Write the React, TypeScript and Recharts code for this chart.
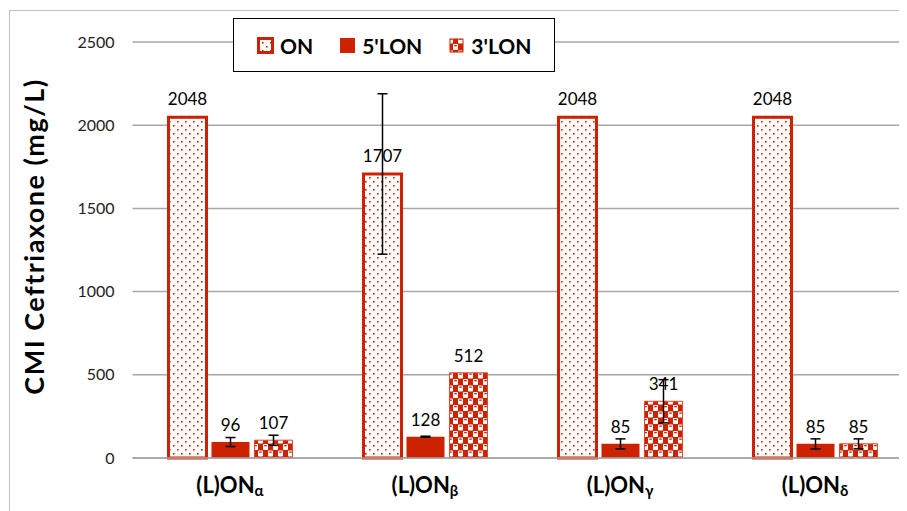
import { BarChart, Bar, XAxis, YAxis, CartesianGrid, ErrorBar, LabelList } from 'recharts';

// categories: base label + greek subscript
const groupNames = ['(L)ON', '(L)ON', '(L)ON', '(L)ON'];
const groupSubs = ['α', 'β', 'γ', 'δ'];

// CMI values (mg/L) and error half-widths
const onValues = [2048, 1707, 2048, 2048];
const onErrors = [0, 482, 0, 0];
const lon5Values = [96, 128, 85, 85];
const lon5Errors = [27, 3, 30, 30];
const lon3Values = [107, 512, 341, 85];
const lon3Errors = [30, 0, 130, 30];

const yTicks = [0, 500, 1000, 1500, 2000, 2500];

const RED = '#cc2200';
const GRID = '#a6a6a6';
const FONT = 'Lato, "Open Sans", sans-serif';

const chartData = groupNames.map((name, i) => ({
  name: name + groupSubs[i],
  base: name,
  sub: groupSubs[i],
  on: onValues[i],
  onErr: onErrors[i],
  lon5: lon5Values[i],
  lon5Err: lon5Errors[i],
  lon3: lon3Values[i],
  lon3Err: lon3Errors[i],
}));

const Patterns = ({ suffix }: { suffix: string }) => (
  <defs>
    <pattern id={`dots${suffix}`} width="8" height="8" patternUnits="userSpaceOnUse">
      <rect width="8" height="8" fill="#fff" />
      <rect x="1" y="1" width="1.6" height="1.6" fill={RED} />
      <rect x="5" y="5" width="1.6" height="1.6" fill={RED} />
    </pattern>
    <pattern id={`checks${suffix}`} width="10" height="13" patternUnits="userSpaceOnUse">
      <rect width="10" height="13" fill={RED} />
      <rect x="0" y="0.5" width="5" height="6" rx="0.8" fill="#fff" />
      <rect x="5" y="7" width="5" height="6" rx="0.8" fill="#fff" />
      <rect x="1.2" y="1.5" width="2.6" height="1.3" fill={RED} />
      <rect x="6.2" y="8" width="2.6" height="1.3" fill={RED} />
    </pattern>
  </defs>
);

const GroupTick = ({ x, y, payload, index }: any) => {
  const d = chartData[index] ?? chartData.find((r) => r.name === payload.value);
  return (
    <text x={x} y={y} dy={27} textAnchor="middle" fontFamily={FONT} fontWeight="bold" fontSize={22} fill="#000">
      <tspan>{d ? d.base : payload.value}</tspan>
      <tspan fontSize={15} dy={3}>{d ? d.sub : ''}</tspan>
    </text>
  );
};

const LegendIcon = ({ kind }: { kind: string }) => (
  <svg width={17} height={17} style={{ display: 'block' }}>
    <Patterns suffix={`-lg-${kind}`} />
    {kind === 'on' && <rect x={1.5} y={1.5} width={14} height={14} fill={`url(#dots-lg-${kind})`} stroke={RED} strokeWidth={3} />}
    {kind === 'lon5' && <rect x={1} y={1} width={15} height={15} fill={RED} />}
    {kind === 'lon3' && <rect x={2} y={2} width={13} height={13} fill={`url(#checks-lg-${kind})`} stroke={RED} strokeWidth={1} />}
  </svg>
);

const legendItems = [
  { kind: 'on', label: 'ON' },
  { kind: 'lon5', label: "5'LON" },
  { kind: 'lon3', label: "3'LON" },
];

export default function App() {
  return (
    <div style={{ position: 'relative', width: 899, height: 503, overflow: 'hidden', fontFamily: FONT }}>
      <div style={{ position: 'absolute', left: 1, top: 2, width: 1000, height: 1000, border: '1px solid #bfbfbf' }} />
      <BarChart
        width={920}
        height={503}
        data={chartData}
        margin={{ top: 34, right: 15.5, left: 64.5, bottom: 23 }}
        barSize={38}
        barGap={5}
        style={{ position: 'absolute', left: 0, top: 0 }}
      >
        <Patterns suffix="" />
        <CartesianGrid vertical={false} stroke={GRID} strokeWidth={1.5} />
        <XAxis
          dataKey="name"
          height={30}
          axisLine={{ stroke: GRID, strokeWidth: 1.5 }}
          tickLine={false}
          tick={<GroupTick />}
          interval={0}
        />
        <YAxis
          width={60}
          domain={[0, 2500]}
          ticks={yTicks}
          axisLine={false}
          tickLine={false}
          tickSize={6}
          tickMargin={12}
          tick={{ fontSize: 16, fill: '#222', fontFamily: FONT }}
          label={{
            content: () => (
              <text
                transform="translate(25,228.5) rotate(-90)"
                textAnchor="middle"
                dominantBaseline="central"
                fontFamily={FONT}
                fontWeight="bold"
                fontSize={27}
                letterSpacing={1.5}
                fill="#000"
              >
                CMI Ceftriaxone (mg/L)
              </text>
            ),
          }}
        />
        <Bar dataKey="on" name="ON" fill="url(#dots)" stroke={RED} strokeWidth={3} isAnimationActive={false}>
          <ErrorBar dataKey="onErr" width={5} stroke="#000" strokeWidth={1.5} />
          <LabelList dataKey="on" position="top" offset={12} fontSize={17} fill="#000" fontFamily={FONT} />
        </Bar>
        <Bar dataKey="lon5" name="5'LON" fill={RED} isAnimationActive={false}>
          <ErrorBar dataKey="lon5Err" width={5} stroke="#000" strokeWidth={1.5} />
          <LabelList dataKey="lon5" position="top" offset={11} fontSize={17} fill="#000" fontFamily={FONT} />
        </Bar>
        <Bar dataKey="lon3" name="3'LON" fill="url(#checks)" stroke="#e04a30" strokeWidth={1} isAnimationActive={false}>
          <ErrorBar dataKey="lon3Err" width={5} stroke="#000" strokeWidth={1.5} />
          <LabelList dataKey="lon3" position="top" offset={11} fontSize={17} fill="#000" fontFamily={FONT} />
        </Bar>
      </BarChart>
      <div
        style={{
          position: 'absolute',
          left: 225,
          top: 10,
          width: 322,
          height: 54,
          border: '1px solid #000',
          background: '#fff',
          display: 'flex',
          alignItems: 'center',
          paddingLeft: 23,
          boxSizing: 'border-box',
        }}
      >
        {legendItems.map((it, i) => (
          <div key={it.kind} style={{ display: 'flex', alignItems: 'center', marginRight: i < 2 ? 26 : 0 }}>
            <LegendIcon kind={it.kind} />
            <span style={{ marginLeft: 6, fontSize: 21, fontWeight: 'bold', color: '#000' }}>{it.label}</span>
          </div>
        ))}
      </div>
    </div>
  );
}
